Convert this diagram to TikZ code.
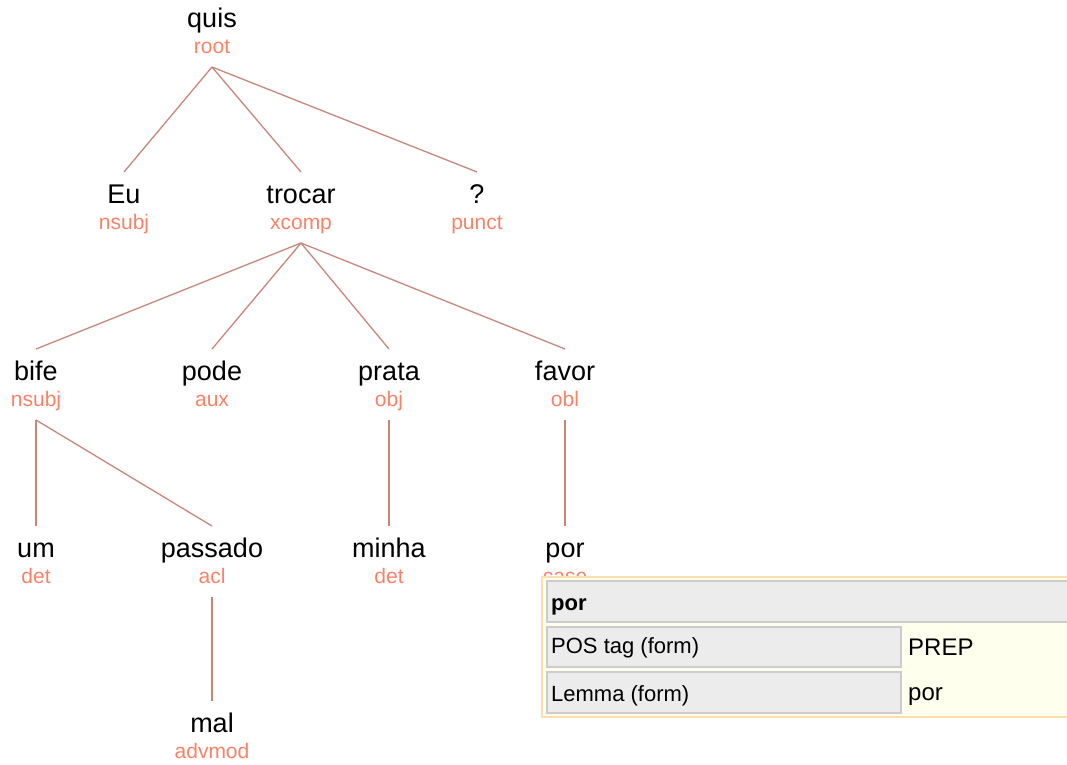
\documentclass[tikz,border=0pt]{standalone}
\usepackage{fontspec}
\setmainfont{Liberation Sans}
\definecolor{labc}{RGB}{250,130,105}
\definecolor{edgec}{RGB}{200,135,122}
\definecolor{boxc}{RGB}{253,222,175}
\definecolor{valbg}{RGB}{255,255,238}
\definecolor{keybg}{RGB}{236,236,236}
\definecolor{keyln}{RGB}{204,204,204}
\tikzset{
  word/.style={anchor=base, inner sep=0pt, font=\fontsize{27}{30}\selectfont, text=black},
  lab/.style={anchor=base, inner sep=0pt, font=\fontsize{21}{24}\selectfont, text=labc},
  edge/.style={draw=edgec, line width=1.3pt},
  keycell/.style={fill=keybg, draw=keyln, line width=1.5pt},
  ttext/.style={anchor=base west, inner sep=0pt, font=\fontsize{22}{26}\selectfont},
  vtext/.style={anchor=base west, inner sep=0pt, font=\fontsize{24}{28}\selectfont},
}
\begin{document}
\begin{tikzpicture}[x=1pt, y=-1pt]
\useasboundingbox (0,0) rectangle (1067,764);
% words and labels
\node[word] (quis) at (212,27) {quis};
\node[lab] (quisl) at (212,53) {root};
\node[word] (eu) at (124,203) {Eu};
\node[lab] (eul) at (124,229) {nsubj};
\node[word] (trocar) at (301,203) {trocar};
\node[lab] (trocarl) at (301,229) {xcomp};
\node[word] (q) at (477,203) {?};
\node[lab] (ql) at (477,229) {punct};
\node[word] (bife) at (36,380) {bife};
\node[lab] (bifel) at (36,406) {nsubj};
\node[word] (pode) at (212,380) {pode};
\node[lab] (podel) at (212,406) {aux};
\node[word] (prata) at (389,380) {prata};
\node[lab] (pratal) at (389,406) {obj};
\node[word] (favor) at (565,380) {favor};
\node[lab] (favorl) at (565,406) {obl};
\node[word] (um) at (36,557) {um};
\node[lab] (uml) at (36,583) {det};
\node[word] (passado) at (212,557) {passado};
\node[lab] (passadol) at (212,583) {acl};
\node[word] (minha) at (389,557) {minha};
\node[lab] (minhal) at (389,583) {det};
\node[word] (por) at (565,557) {por};
\node[lab] (porl) at (565,583) {case};
\node[word] (mal) at (212,732) {mal};
\node[lab] (mall) at (212,758) {advmod};
% edges
\foreach \p/\c in {quisl/eu, quisl/trocar, quisl/q,
  trocarl/bife, trocarl/pode, trocarl/prata, trocarl/favor,
  bifel/um, bifel/passado, pratal/minha, favorl/por, passadol/mal}
  \draw[edge] ([yshift=-14pt]\p.base) -- ([yshift=31pt]\c.base);
% info table
\draw[draw=boxc, fill=valbg, line width=2pt] (542,577) rectangle (1080,717);
\draw[keycell] (547,581) rectangle (1075,622);
\draw[keycell] (547,627) rectangle (901,667);
\draw[keycell] (547,672) rectangle (901,713);
\node[ttext, font=\fontsize{22}{26}\selectfont\bfseries] (th) at (551,610) {por};
\node[ttext] (k1) at (551,653) {POS tag (form)};
\node[ttext] (k2) at (551,701) {Lemma (form)};
\node[vtext] (v1) at (908,655) {PREP};
\node[vtext] (v2) at (908,700) {por};
\end{tikzpicture}
\end{document}
